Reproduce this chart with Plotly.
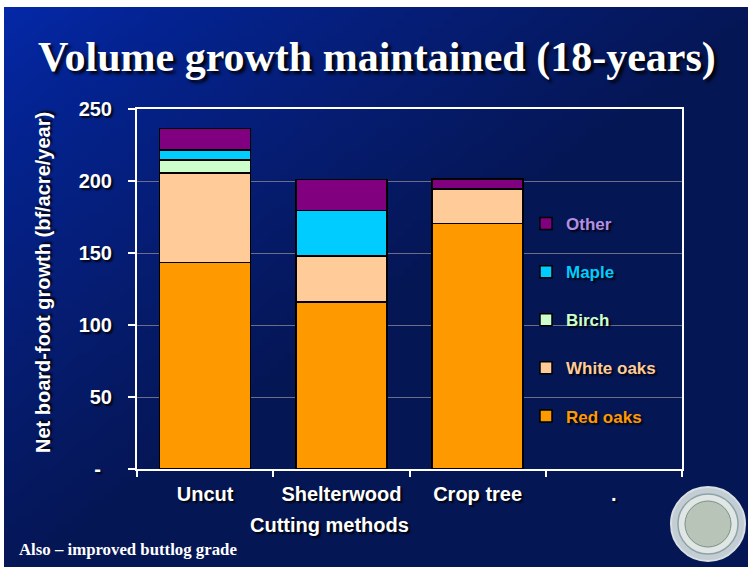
import base64
import struct
import zlib

import plotly.graph_objects as go

# ---- data -------------------------------------------------------------
methods = ["Uncut", "Shelterwood", "Crop tree", "."]
red_oaks = [143.5, 116, 170.5, None]
white_oaks = [62, 32, 24, None]
birch = [9, 0, 0, None]
maple = [7, 31.5, 0, None]
other = [15, 21.5, 7, None]

series = [
    ("Red oaks", red_oaks, "#ff9900", "#ff9900"),
    ("White oaks", white_oaks, "#ffcc99", "#ffcc99"),
    ("Birch", birch, "#ccffcc", "#ccffcc"),
    ("Maple", maple, "#00ccff", "#00ccff"),
    ("Other", other, "#800080", "#b38fe6"),
]

y_ticks = [0, 50, 100, 150, 200, 250]
y_tick_text = ["-\u00a0\u00a0", "50", "100", "150", "200", "250"]

# ---- page geometry (pixels) -------------------------------------------
W, H = 748, 567
L, R, T, B = 137, 66, 109, 98
PW, PH = W - L - R, H - T - B


def px_x(x):
    return (x - L) / PW


def px_y(y):
    return (H - B - y) / PH


# ---- background gradient as a small PNG ---------------------------------
def gradient_png(w, h):
    c0 = (4, 40, 168)
    c1 = (5, 22, 84)
    rows = b""
    for j in range(h):
        row = b"\x00"
        for i in range(w):
            t = min(1.0, 0.95 * i / (w - 1) + 0.95 * j / (h - 1))
            t = t ** 0.85
            px = bytes(int(round(c0[k] + (c1[k] - c0[k]) * t)) for k in range(3))
            row += px
        rows += row

    def chunk(tag, data):
        c = struct.pack(">I", len(data)) + tag + data
        return c + struct.pack(">I", zlib.crc32(tag + data) & 0xFFFFFFFF)

    png = b"\x89PNG\r\n\x1a\n"
    png += chunk(b"IHDR", struct.pack(">IIBBBBB", w, h, 8, 2, 0, 0, 0))
    png += chunk(b"IDAT", zlib.compress(rows, 9))
    png += chunk(b"IEND", b"")
    return "data:image/png;base64," + base64.b64encode(png).decode()


SANS = "Liberation Sans, Arial, sans-serif"
SERIF = "Liberation Serif, Times New Roman, serif"
SHADOW = "2px 2px 2px rgba(0,0,0,0.85)"

fig = go.Figure()
n = len(series)
for i, (name, vals, color, text_color) in enumerate(series):
    fig.add_trace(
        go.Bar(
            x=methods,
            y=vals,
            name=f"<span style='color:{text_color}'>{name}</span>",
            legendgroup=name,
            legendrank=n - i,
            marker=dict(color=color, line=dict(color="black", width=1.5)),
            width=0.667,
        )
    )

fig.update_layout(
    width=W,
    height=H,
    barmode="stack",
    paper_bgcolor="white",
    plot_bgcolor="rgba(0,0,0,0)",
    margin=dict(l=L, r=R, t=T, b=B, pad=0),
    showlegend=True,
    legend=dict(
        x=px_x(526),
        y=px_y(206),
        xanchor="left",
        yanchor="top",
        traceorder="grouped",
        tracegroupgap=23,
        bgcolor="rgba(0,0,0,0)",
        font=dict(family=SANS, size=17, weight="bold", shadow=SHADOW),
        itemwidth=30,
    ),
    xaxis=dict(
        type="category",
        categoryorder="array",
        categoryarray=methods,
        range=[-0.5, 3.5],
        tickson="boundaries",
        ticks="outside",
        ticklen=6,
        tickwidth=2,
        tickcolor="white",
        showline=True,
        linecolor="white",
        linewidth=2,
        mirror=True,
        showgrid=False,
        tickfont=dict(family=SANS, size=20, color="white", weight="bold", shadow=SHADOW),
        ticklabelstandoff=6,
    ),
    yaxis=dict(
        range=[0, 250],
        tickvals=y_ticks,
        ticktext=y_tick_text,
        ticks="outside",
        ticklen=7,
        tickwidth=2,
        tickcolor="white",
        showline=True,
        linecolor="white",
        linewidth=2,
        mirror=True,
        showgrid=True,
        gridcolor="#6b6e86",
        gridwidth=1,
        zeroline=False,
        tickfont=dict(family=SANS, size=20, color="white", weight="bold", shadow=SHADOW),
        ticklabelstandoff=12,
    ),
    images=[
        dict(
            source=gradient_png(94, 72),
            xref="paper",
            yref="paper",
            x=px_x(4),
            y=px_y(7),
            sizex=(W - 4) / PW,
            sizey=(H - 7) / PH,
            sizing="stretch",
            layer="below",
            xanchor="left",
            yanchor="top",
        )
    ],
)

annotations = [
    dict(
        text="Volume growth maintained (18-years)",
        x=px_x(377), y=px_y(57),
        font=dict(family=SERIF, size=42, color="white", weight="bold",
                  shadow="3px 3px 3px rgba(0,0,0,0.9)"),
    ),
    dict(
        text="Net board-foot growth (bf/acre/year)",
        x=px_x(43), y=px_y(283), textangle=-90,
        font=dict(family=SANS, size=20, color="white", weight="bold", shadow=SHADOW),
    ),
    dict(
        text="Cutting methods",
        x=px_x(329), y=px_y(525),
        font=dict(family=SANS, size=20, color="white", weight="bold", shadow=SHADOW),
    ),
    dict(
        text="Also \u2013 improved buttlog grade",
        x=px_x(17), y=px_y(549), xanchor="left",
        font=dict(family=SERIF, size=16.8, color="white", weight="bold"),
    ),
]
for a in annotations:
    a.setdefault("xanchor", "center")
    a.update(xref="paper", yref="paper", yanchor="middle", showarrow=False)
fig.update_layout(annotations=annotations)

# seal emblem in the lower right corner
cx, cy, r = 708, 524, 37
seal = [
    (r, "#c3cdd4", "#d8e0e4", 2),
    (r - 7, "#dfe6e4", "#8fa2a8", 1.5),
    (r - 14, "#b9c4b8", "#7d8f8c", 1),
]
for rad, fill, line, lw in seal:
    fig.add_shape(
        type="circle", xref="paper", yref="paper",
        x0=px_x(cx - rad), x1=px_x(cx + rad),
        y0=px_y(cy + rad), y1=px_y(cy - rad),
        fillcolor=fill, line=dict(color=line, width=lw), layer="above",
    )

fig.write_html("out.html")
